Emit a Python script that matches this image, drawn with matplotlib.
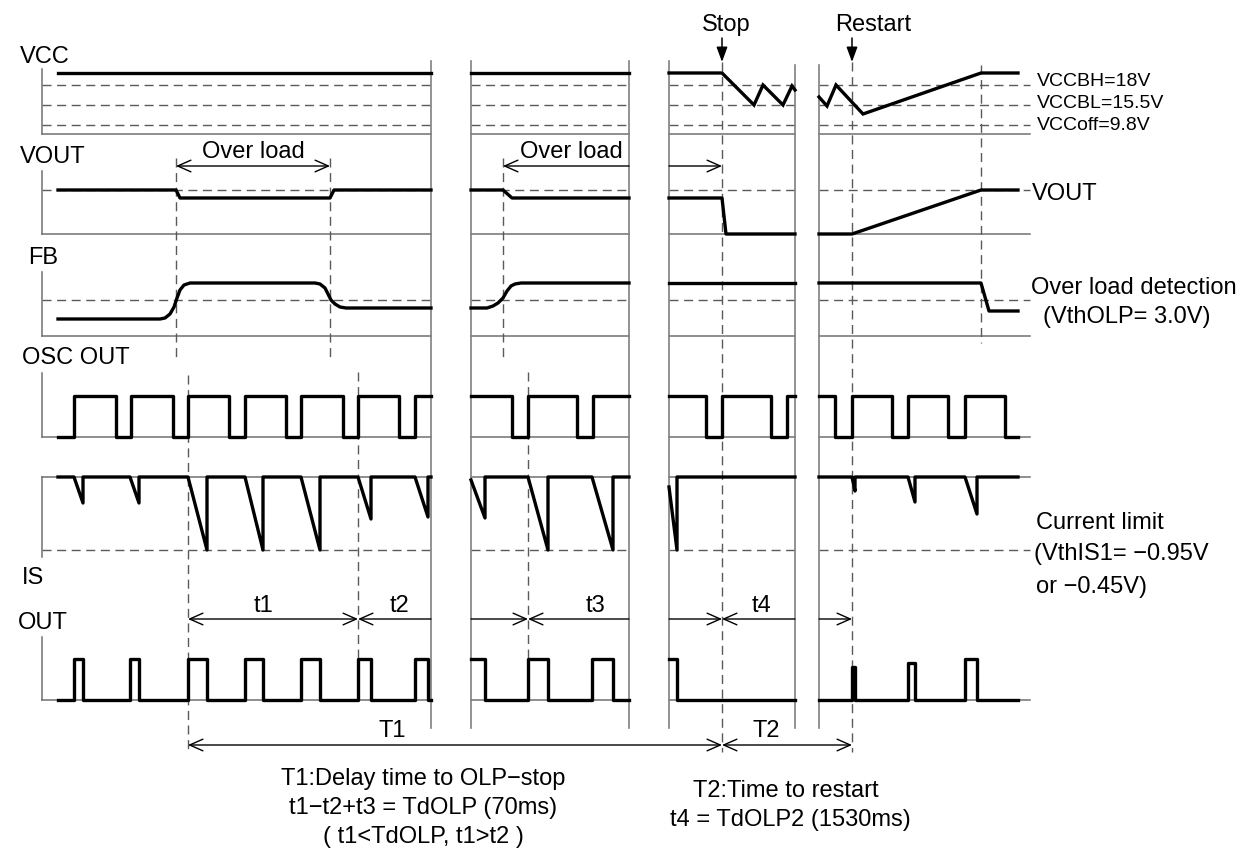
import matplotlib
matplotlib.use('Agg')
import matplotlib.pyplot as plt

plt.rcParams['font.family'] = ['Liberation Sans', 'DejaVu Sans']

# ---------------- diagram data (x = time axis, y = level on the sheet) ----------------
# four time windows separated by breaks
seg_left = [42, 471, 669, 819]
seg_right = [431, 629, 795, 1030]
trace_start = [58, 471, 669, 819]
trace_end = [431, 629, 795, 1018]

# VCC waveform per window
vcc_t = [[58, 431], [471, 629],
         [669, 722, 754, 763, 783, 792, 795],
         [819, 827, 836, 863, 981, 1018]]
vcc_v = [[73, 73], [73, 73],
         [73, 73, 105, 85, 105, 86, 90],
         [97, 106, 85, 114, 73, 73]]

# VOUT waveform
vout_t = [[58, 176, 180, 330, 334, 431], [471, 503, 512, 629],
          [669, 722, 726, 795], [819, 852, 981, 1018]]
vout_v = [[190, 190, 198, 198, 190, 190], [190, 190, 198, 198],
          [198, 198, 234, 234], [234, 234, 190, 190]]

# FB waveform
fb_t = [[58, 160, 165, 170, 174, 177, 180, 184, 190, 315, 320, 325, 328, 331, 335, 340, 346, 431],
        [471, 487, 493, 498, 503, 507, 511, 515, 521, 629],
        [669, 795],
        [819, 981, 989, 1018]]
fb_v = [[319, 319, 318, 314, 307, 298, 290, 285, 283, 283, 284, 288, 294, 300, 304, 307, 308, 308],
        [308, 308, 306, 303, 298, 291, 286, 284, 283, 283],
        [283, 283],
        [283, 283, 311, 311]]

# OSC OUT pulses (rise, fall)
osc_pulses = [[(74, 116), (131, 173), (188, 229), (245, 286), (301, 343), (358, 399), (415, 431)],
              [(471, 512), (528, 577), (593, 629)],
              [(669, 706), (722, 771), (787, 795)],
              [(819, 835), (852, 892), (908, 948), (965, 1005)]]

# OUT pulses (rise, fall, high level)
out_pulses = [[(74, 83, 659), (130, 139, 659), (188, 207, 659), (245, 263, 659),
               (301, 320, 659), (358, 371, 659), (415, 428, 659)],
              [(471, 485, 659), (528, 548, 659), (592, 613, 659)],
              [(669, 677, 659)],
              [(852, 855, 667), (908, 915, 663), (965, 977, 659)]]

# IS peak level reached at each OUT pulse end
is_peak = [[503, 503, 550, 550, 550, 519, 517],
           [518, 550, 550],
           [550],
           [491, 502, 514]]
is_start = [477, 480, 487, 477]

# levels
vcc_dash = [85, 105, 125]
vcc_base = 134
vout_dash, vout_base = 190, 234
fb_dash, fb_base = 300, 336
osc_hi, osc_base = 396, 437
is_zero, is_dash = 477, 550
out_base = 700

row_axes = [(69, 134), (171, 234), (272, 336), (373, 437), (477, 557), (637, 700)]
row_names = [('VCC', 20, 57), ('VOUT', 20, 157), ('FB', 28, 258), ('OSC OUT', 22, 358),
             ('IS', 22, 578), ('OUT', 18, 623)]
vcc_labels = [('VCCBH=18V', 82), ('VCCBL=15.5V', 104), ('VCCoff=9.8V', 126)]

breaks = [(431, 61), (471, 61), (629, 61), (669, 61), (795, 65), (819, 65)]
break_bottom = 728

dash_marks = [(176, 158, 360), (330, 158, 360), (503, 158, 360),
              (722, 62, 752), (852, 62, 752), (981, 65, 343),
              (188, 375, 752), (358, 372, 659), (528, 372, 659)]

# ---------------- drawing ----------------
fig = plt.figure(figsize=(12.47, 8.55), dpi=100)
ax = fig.add_axes([0, 0, 1, 1])
ax.set_xlim(0, 1247)
ax.set_ylim(855, 0)
ax.axis('off')

GRID = '#707070'
DASH = '#5a5a5a'
TW = 2.4
ds = (0, (6.5, 4))

def hline_all(y, dashed=False):
    for l, r in zip(seg_left, seg_right):
        if dashed:
            ax.plot([l, r], [y, y], color=DASH, lw=1.0, ls=ds)
        else:
            ax.plot([l, r], [y, y], color=GRID, lw=1.1)

for y in vcc_dash:
    hline_all(y, True)
for y in [vout_dash, fb_dash, is_dash]:
    hline_all(y, True)
for y in [vcc_base, vout_base, fb_base, osc_base, is_zero, out_base]:
    hline_all(y)

for top, bot in row_axes:
    ax.plot([42, 42], [top, bot], color=GRID, lw=1.1)

for x, top in breaks:
    ax.plot([x, x], [top, break_bottom], color='#808080', lw=1.2)

for x, y0, y1 in dash_marks:
    ax.plot([x, x], [y0, y1], color=DASH, lw=1.0, ls=ds)

for ts, vs in zip(vcc_t, vcc_v):
    ax.plot(ts, vs, color='black', lw=TW, solid_joinstyle='miter')
for ts, vs in zip(vout_t, vout_v):
    ax.plot(ts, vs, color='black', lw=TW)
for ts, vs in zip(fb_t, fb_v):
    ax.plot(ts, vs, color='black', lw=TW)

# OSC OUT
for k, pulses in enumerate(osc_pulses):
    xs, ys = [], []
    if pulses[0][0] > trace_start[k]:
        xs.append(trace_start[k]); ys.append(osc_base)
    for r, f in pulses:
        xs += [r, r]; ys += [osc_base, osc_hi]
        xs += [f, f]; ys += [osc_hi, osc_base]
    if pulses[-1][1] < trace_end[k]:
        xs.append(trace_end[k]); ys.append(osc_base)
    else:
        xs, ys = xs[:-1], ys[:-1]
    if pulses[0][0] == trace_start[k]:
        xs, ys = xs[1:], ys[1:]
    ax.plot(xs, ys, color='black', lw=TW)

# OUT and IS
for k, pulses in enumerate(out_pulses):
    xs, ys = [trace_start[k]], [out_base]
    ix, iy = [trace_start[k]], [is_start[k]]
    for j, (r, f, h) in enumerate(pulses):
        if r == trace_start[k]:
            xs, ys = [r], [h]
        else:
            xs += [r, r]; ys += [out_base, h]
            ix += [r]; iy += [is_zero]
        xs += [f, f]; ys += [h, out_base]
        ix += [f, f]; iy += [is_peak[k][j], is_zero]
    xs.append(trace_end[k]); ys.append(out_base)
    ix.append(trace_end[k]); iy.append(is_zero)
    ax.plot(xs, ys, color='black', lw=TW)
    ax.plot(ix, iy, color='black', lw=TW)

# arrows
def arrow(x1, x2, y, left=True, right=True):
    style = {(True, True): '<->', (True, False): '<-', (False, True): '->'}[(left, right)]
    ax.annotate('', xy=(x2, y), xytext=(x1, y),
                arrowprops=dict(arrowstyle=style + ',head_length=0.95,head_width=0.42',
                                mutation_scale=10, lw=1.0, color='black',
                                shrinkA=0, shrinkB=0))

arrow(176, 330, 166)
arrow(503, 629, 166, True, False)
arrow(669, 722, 166, False, True)
arrow(188, 358, 619)
arrow(358, 431, 619, True, False)
arrow(471, 528, 619, False, True)
arrow(528, 629, 619, True, False)
arrow(669, 722, 619, False, True)
arrow(722, 795, 619, True, False)
arrow(819, 852, 619, False, True)
arrow(188, 722, 745)
arrow(722, 852, 745)

for x in [722, 852]:
    ax.annotate('', xy=(x, 62), xytext=(x, 38),
                arrowprops=dict(arrowstyle='-|>,head_length=0.6,head_width=0.22',
                                mutation_scale=15, lw=1.1, color='black',
                                shrinkA=0, shrinkB=0))

# text
FS = 17
for name, x, y in row_names:
    ax.text(x, y, name, fontsize=FS, va='center', ha='left')

ax.text(726, 25, 'Stop', fontsize=FS, va='center', ha='center')
ax.text(873, 25, 'Restart', fontsize=FS, va='center', ha='center')
for s, y in vcc_labels:
    ax.text(1037, y, s, fontsize=14, va='center')
ax.text(1032, 194, 'VOUT', fontsize=FS, va='center')
ax.text(1031, 288, 'Over load detection', fontsize=FS, va='center')
ax.text(1043, 317, '(VthOLP= 3.0V)', fontsize=FS, va='center')
ax.text(1036, 523, 'Current limit', fontsize=FS, va='center')
ax.text(1034, 554, '(VthIS1= \u22120.95V', fontsize=FS, va='center')
ax.text(1036, 587, 'or \u22120.45V)', fontsize=FS, va='center')

ax.text(253, 152, 'Over load', fontsize=FS, va='center', ha='center')
ax.text(571, 152, 'Over load', fontsize=FS, va='center', ha='center')
ax.text(263, 606, 't1', fontsize=FS, va='center', ha='center')
ax.text(400, 606, 't2', fontsize=FS, va='center', ha='center')
ax.text(596, 606, 't3', fontsize=FS, va='center', ha='center')
ax.text(762, 606, 't4', fontsize=FS, va='center', ha='center')
ax.text(392, 731, 'T1', fontsize=FS, va='center', ha='center')
ax.text(766, 731, 'T2', fontsize=FS, va='center', ha='center')

ax.text(423, 779, 'T1:Delay time to OLP\u2212stop', fontsize=FS, va='center', ha='center')
ax.text(423, 808, 't1\u2212t2+t3 = TdOLP (70ms)', fontsize=FS, va='center', ha='center')
ax.text(423, 837, '( t1<TdOLP, t1>t2 )', fontsize=FS, va='center', ha='center')
ax.text(786, 791, 'T2:Time to restart', fontsize=FS, va='center', ha='center')
ax.text(790, 820, 't4 = TdOLP2 (1530ms)', fontsize=FS, va='center', ha='center')

fig.savefig('out.png', dpi=100)
